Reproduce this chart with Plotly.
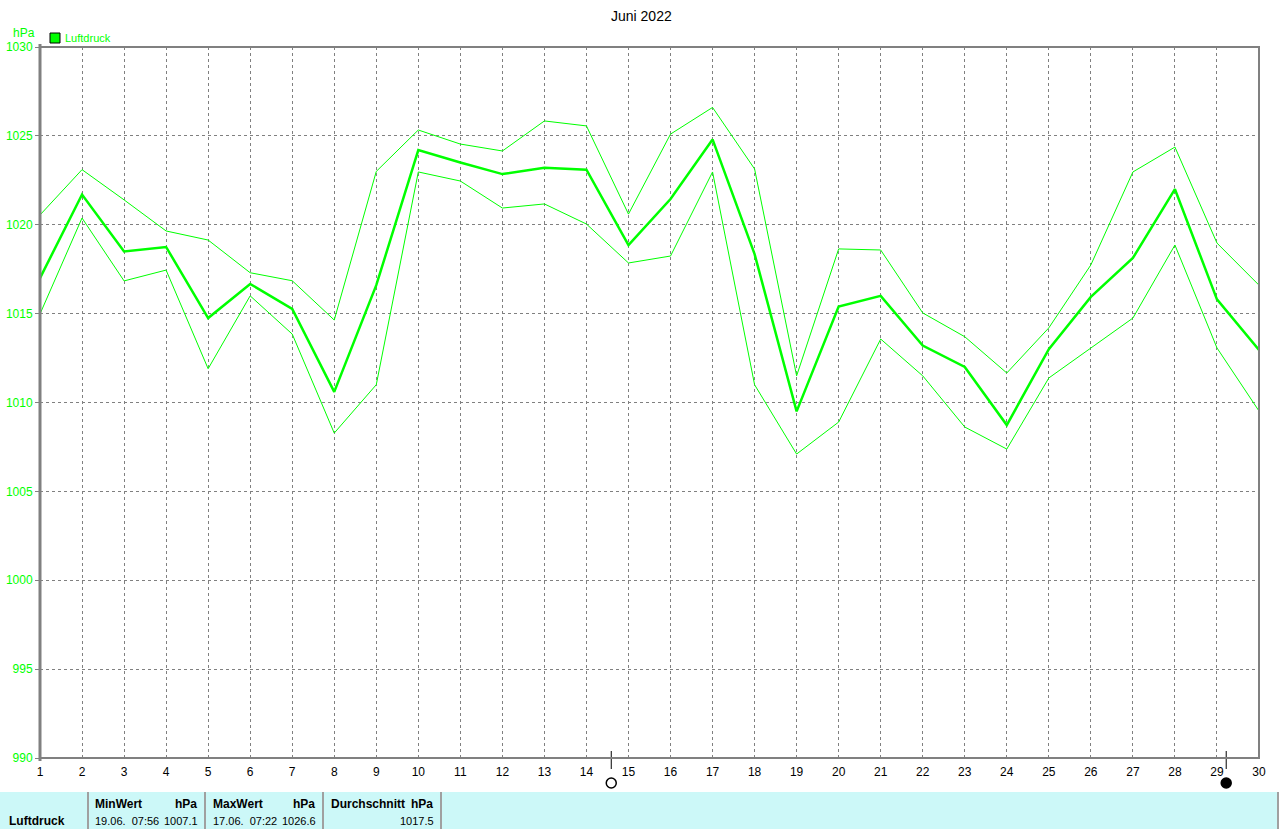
import plotly.graph_objects as go

days = list(range(1, 31))
mean_vals = [1017.0, 1021.7, 1018.5, 1018.75, 1014.75, 1016.67, 1015.26, 1010.6, 1016.6, 1024.2,
             1023.5, 1022.85, 1023.2, 1023.1, 1018.86, 1021.45, 1024.8, 1018.35, 1009.5, 1015.4,
             1016.0, 1013.2, 1012.0, 1008.73, 1013.0, 1015.94, 1018.13, 1022.0, 1015.8, 1012.95]
max_vals = [1020.55, 1023.1, 1021.4, 1019.65, 1019.14, 1017.3, 1016.85, 1014.64, 1023.0, 1025.33,
            1024.54, 1024.15, 1025.84, 1025.56, 1020.6, 1025.1, 1026.6, 1023.14, 1011.5, 1018.64,
            1018.58, 1015.04, 1013.7, 1011.66, 1014.2, 1017.74, 1022.97, 1024.37, 1018.97, 1016.6]
min_vals = [1014.98, 1020.38, 1016.84, 1017.45, 1011.9, 1016.0, 1013.85, 1008.28, 1011.0, 1022.97,
            1022.46, 1020.94, 1021.17, 1020.04, 1017.85, 1018.24, 1022.97, 1011.0, 1007.1, 1008.9,
            1013.57, 1011.5, 1008.62, 1007.38, 1011.38, 1013.07, 1014.75, 1018.86, 1013.07, 1009.52]
y_ticks = [990, 995, 1000, 1005, 1010, 1015, 1020, 1025, 1030]
moon_days = [14.59, 29.22]
moon_filled = [False, True]

GREEN = "#00FF00"
GRAY = "#808080"
FONT = "Liberation Sans"

W, H = 1280, 829
L, R, T, B = 40, 1259, 47, 758
DAY_PX = (R - L) / 29.0


def px(x):
    return (x - L) / (R - L)


def py(y):
    return (B - y) / (B - T)


fig = go.Figure()
fig.add_trace(go.Scatter(x=days, y=max_vals, mode="lines", line=dict(color=GREEN, width=1), showlegend=False))
fig.add_trace(go.Scatter(x=days, y=min_vals, mode="lines", line=dict(color=GREEN, width=1), showlegend=False))
fig.add_trace(go.Scatter(x=days, y=mean_vals, mode="lines", line=dict(color=GREEN, width=2.5), showlegend=False))

shapes = []
# moon tick marks and symbols
r_days = 5.0 / DAY_PX
for d, filled in zip(moon_days, moon_filled):
    shapes.append(dict(type="line", xref="x", yref="paper", x0=d, x1=d, y0=py(751), y1=py(769),
                       line=dict(color="black", width=1)))
    shapes.append(dict(type="circle", xref="x", yref="paper", x0=d - r_days, x1=d + r_days,
                       y0=py(788), y1=py(778), fillcolor="black" if filled else "rgba(0,0,0,0)",
                       line=dict(color="black", width=1.5)))
# frame
shapes.append(dict(type="rect", xref="paper", yref="paper", x0=0, x1=1, y0=0, y1=1,
                   line=dict(color=GRAY, width=2), layer="above"))
shapes.append(dict(type="line", xref="paper", yref="paper", x0=0, x1=0, y0=py(761), y1=py(44),
                   line=dict(color=GRAY, width=3), layer="above"))
# legend square
shapes.append(dict(type="rect", xref="paper", yref="paper", x0=px(50), x1=px(60), y0=py(43), y1=py(33),
                   fillcolor=GREEN, line=dict(color="black", width=1)))
# bottom table
shapes.append(dict(type="rect", xref="paper", yref="paper", x0=px(0), x1=px(1278), y0=py(829), y1=py(792),
                   fillcolor="#CCF8F8", line=dict(width=0), layer="below"))
for xs in [88, 205, 323, 441, 1278]:
    shapes.append(dict(type="line", xref="paper", yref="paper", x0=px(xs), x1=px(xs), y0=py(829), y1=py(792),
                       line=dict(color="#A0A0A0", width=2)))

annotations = [
    dict(text="Juni 2022", xref="paper", yref="paper", x=px(641), y=py(16), showarrow=False,
         font=dict(family=FONT, size=14, color="black"), xanchor="center", yanchor="middle"),
    dict(text="hPa", xref="paper", yref="paper", x=px(11), y=py(33), showarrow=False,
         font=dict(family=FONT, size=12, color=GREEN), xanchor="left", yanchor="middle"),
    dict(text="Luftdruck", xref="paper", yref="paper", x=px(63), y=py(38), showarrow=False,
         font=dict(family=FONT, size=11, color=GREEN), xanchor="left", yanchor="middle"),
]


def txt(s, x, y, anchor="left", bold=False, size=11):
    annotations.append(dict(text=f"<b>{s}</b>" if bold else s, xref="paper", yref="paper",
                            x=px(x), y=py(y), showarrow=False, xanchor=anchor, yanchor="middle",
                            font=dict(family=FONT, size=size, color="black")))


txt("Luftdruck", 7, 821, bold=True, size=12)
txt("MinWert", 93, 804, bold=True, size=12)
txt("hPa", 199, 804, "right", bold=True, size=12)
txt("19.06.  07:56", 93, 821)
txt("1007.1", 200, 821, "right")
txt("MaxWert", 211, 804, bold=True, size=12)
txt("hPa", 317, 804, "right", bold=True, size=12)
txt("17.06.  07:22", 211, 821)
txt("1026.6", 318, 821, "right")
txt("Durchschnitt", 329, 804, bold=True, size=12)
txt("hPa", 435, 804, "right", bold=True, size=12)
txt("1017.5", 436, 821, "right")

fig.update_layout(
    width=W, height=H,
    margin=dict(l=L, r=W - R, t=T, b=H - B, pad=0, autoexpand=False),
    plot_bgcolor="white", paper_bgcolor="white",
    shapes=shapes, annotations=annotations,
    xaxis=dict(range=[1, 30], tickmode="array", tickvals=days, ticktext=[str(d) for d in days],
               showgrid=True, gridcolor=GRAY, griddash="3px,3px", gridwidth=1, zeroline=False,
               showline=False, ticks="", automargin=False, ticklabelstandoff=5,
               tickfont=dict(family=FONT, size=12, color="black")),
    yaxis=dict(range=[990, 1030], tickmode="array", tickvals=y_ticks, ticktext=[str(v) for v in y_ticks],
               showgrid=True, gridcolor=GRAY, griddash="3px,3px", gridwidth=1, zeroline=False,
               showline=False, ticks="outside", ticklen=4, tickcolor=GRAY, automargin=False,
               tickfont=dict(family=FONT, size=12, color=GREEN)),
    font=dict(family=FONT),
)

fig.write_html("out.html", config={"displayModeBar": False})

with open("out.html", "r", encoding="utf-8") as f:
    html = f.read()
html = html.replace("<head>", "<head><style>html,body{margin:0;padding:0;overflow:hidden;}</style>", 1)
with open("out.html", "w", encoding="utf-8") as f:
    f.write(html)
